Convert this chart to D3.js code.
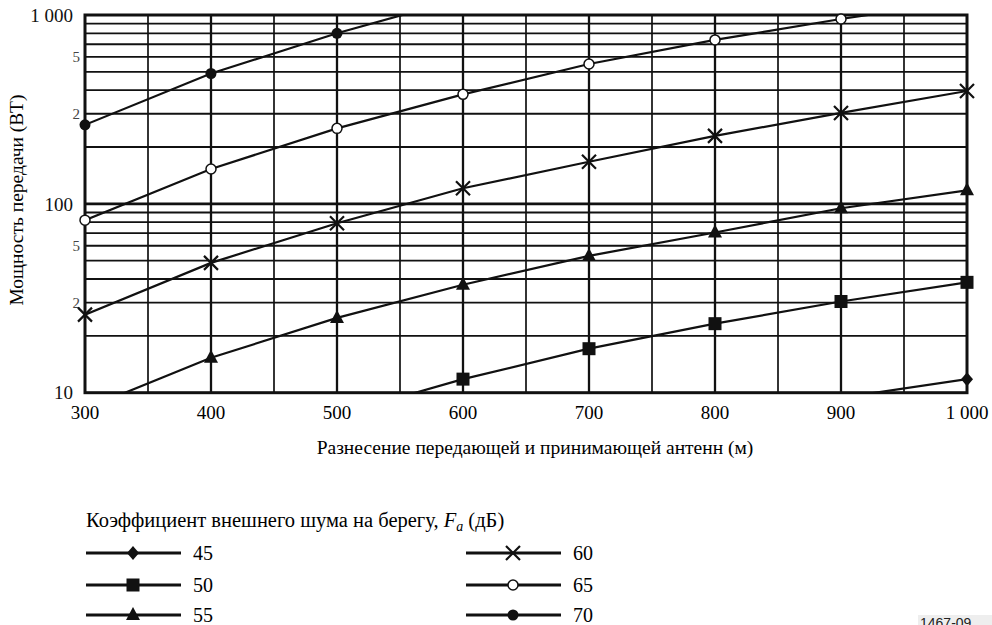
<!DOCTYPE html>
<html>
<head>
<meta charset="utf-8">
<script src="https://cdn.jsdelivr.net/npm/d3@7"></script>
<style>
  body { margin: 0; background: #fff; }
  svg { display: block; }
</style>
</head>
<body>
<div id="chart"></div>
<script>
// distances (m) and transmit power (W) for each external noise factor
const distances = [300, 400, 500, 600, 700, 800, 900, 1000];
const fa45 = [null, null, null, null, null, null, 9.4, 11.8];
const fa50 = [null, null, 7.6, 11.8, 17.1, 23.2, 30.4, 38.4];
const fa55 = [8.2, 15.3, 24.9, 37.3, 53, 70.5, 94.8, 118];
const fa60 = [25.9, 48.7, 79, 121, 167, 229, 303, 396];
const fa65 = [82, 153, 251, 380, 550, 738, 952, 1200];
const fa70 = [262, 490, 800, 1230, null, null, null, null];

const seriesNames = ["45", "50", "55", "60", "65", "70"];
const seriesValues = [fa45, fa50, fa55, fa60, fa65, fa70];
const seriesMarkers = ["diamond", "square", "triangle", "cross", "open", "dot"];

const xTicks = [300, 400, 500, 600, 700, 800, 900, 1000];
const xTickLabels = ["300", "400", "500", "600", "700", "800", "900", "1 000"];
// y labels sit where the original figure prints them
const yTickPos = [1000, 600, 300, 100, 60, 30, 10];
const yTickLabels = ["1 000", "5", "2", "100", "5", "2", "10"];

const W = 992, H = 625;
const plotL = 85, plotR = 967, plotT = 15, plotB = 392.7;
const serif = "'Liberation Serif', 'Times New Roman', 'DejaVu Serif', serif";

const svg = d3.select("#chart").append("svg")
    .attr("width", W)
    .attr("height", H)
    .attr("font-family", serif)
    .style("font-family", serif);

const x = d3.scaleLinear().domain([300, 1000]).range([plotL, plotR]);
const y = d3.scaleLog().domain([10, 1000]).range([plotB, plotT]);

// grid
const grid = svg.append("g").attr("stroke", "#111");
const hLines = [];
[10, 100].forEach(base => { for (let k = 2; k <= 9; k++) hLines.push(base * k); });
hLines.push(100);
grid.selectAll("line.h").data(hLines).enter().append("line")
    .attr("x1", plotL).attr("x2", plotR)
    .attr("y1", d => y(d)).attr("y2", d => y(d))
    .attr("stroke-width", d => (d === 100 ? 2.6 : 1.8));
const vLines = d3.range(350, 1000, 50);
grid.selectAll("line.v").data(vLines).enter().append("line")
    .attr("y1", plotT).attr("y2", plotB)
    .attr("x1", d => x(d)).attr("x2", d => x(d))
    .attr("stroke-width", d => (d % 100 === 0 ? 2.3 : 1.7));
svg.append("rect")
    .attr("x", plotL).attr("y", plotT)
    .attr("width", plotR - plotL).attr("height", plotB - plotT)
    .attr("fill", "none").attr("stroke", "#111").attr("stroke-width", 3);

// axes labels
svg.append("g").selectAll("text").data(xTicks).enter().append("text")
    .attr("x", d => x(d)).attr("y", 419)
    .attr("text-anchor", "middle")
    .attr("font-size", 19)
    .text((d, i) => xTickLabels[i]);

svg.append("g").selectAll("text").data(yTickPos).enter().append("text")
    .attr("x", (d, i) => (yTickLabels[i].length === 1 ? 80 : 73))
    .attr("y", d => y(d))
    .attr("dy", "0.35em")
    .attr("text-anchor", "end")
    .attr("font-size", (d, i) => (yTickLabels[i].length === 1 ? 15 : 19))
    .attr("fill", (d, i) => (yTickLabels[i].length === 1 ? "#444" : "#111"))
    .text((d, i) => yTickLabels[i]);

svg.append("text")
    .attr("x", 535).attr("y", 454)
    .attr("text-anchor", "middle")
    .attr("font-size", 19.5)
    .text("Разнесение передающей и принимающей антенн (м)");

svg.append("text")
    .attr("transform", "translate(23,200) rotate(-90)")
    .attr("text-anchor", "middle")
    .attr("font-size", 19.5)
    .text("Мощность передачи (ВТ)");

// markers
function drawMarker(g, type, cx, cy) {
  if (type === "diamond") {
    g.append("path").attr("d", `M${cx},${cy - 7}L${cx + 6},${cy}L${cx},${cy + 7}L${cx - 6},${cy}Z`).attr("fill", "#111");
  } else if (type === "square") {
    g.append("rect").attr("x", cx - 6.5).attr("y", cy - 6.5).attr("width", 13).attr("height", 13).attr("fill", "#111");
  } else if (type === "triangle") {
    g.append("path").attr("d", `M${cx},${cy - 8}L${cx + 7},${cy + 5}L${cx - 7},${cy + 5}Z`).attr("fill", "#111");
  } else if (type === "cross") {
    g.append("path").attr("d", `M${cx - 7},${cy - 7}L${cx + 7},${cy + 7}M${cx - 7},${cy + 7}L${cx + 7},${cy - 7}`)
        .attr("stroke", "#111").attr("stroke-width", 2.2);
  } else if (type === "open") {
    g.append("circle").attr("cx", cx).attr("cy", cy).attr("r", 5).attr("fill", "#fff").attr("stroke", "#111").attr("stroke-width", 1.5);
  } else {
    g.append("circle").attr("cx", cx).attr("cy", cy).attr("r", 5.5).attr("fill", "#111");
  }
}

svg.append("clipPath").attr("id", "plot")
  .append("rect").attr("x", plotL).attr("y", plotT).attr("width", plotR - plotL).attr("height", plotB - plotT);

const line = d3.line()
    .defined(d => d[1] != null)
    .x(d => x(d[0]))
    .y(d => y(d[1]));

const plot = svg.append("g").attr("clip-path", "url(#plot)");
seriesValues.forEach(vals => {
  plot.append("path")
      .datum(distances.map((d, i) => [d, vals[i]]))
      .attr("fill", "none")
      .attr("stroke", "#111")
      .attr("stroke-width", 2.2)
      .attr("d", line);
});

const marks = svg.append("g");
seriesValues.forEach((vals, s) => {
  distances.forEach((d, i) => {
    const v = vals[i];
    if (v == null || v < 10 || v > 1000) return;
    drawMarker(marks, seriesMarkers[s], x(d), y(v));
  });
});

// legend
const legend = svg.append("g");
const title = legend.append("text").attr("x", 86).attr("y", 527).attr("font-size", 20.5);
title.append("tspan").text("Коэффициент внешнего шума на берегу, ");
title.append("tspan").attr("font-style", "italic").text("F");
title.append("tspan").attr("font-style", "italic").attr("font-size", 14).attr("dy", 4).text("a");
title.append("tspan").attr("dy", -4).text(" (дБ)");

const legendCols = [86, 466];
const legendRows = [553, 585, 615];
seriesNames.forEach((name, i) => {
  const lx = legendCols[Math.floor(i / 3)];
  const ly = legendRows[i % 3];
  legend.append("line")
      .attr("x1", lx).attr("x2", lx + 95)
      .attr("y1", ly).attr("y2", ly)
      .attr("stroke", "#111").attr("stroke-width", 3);
  drawMarker(legend, seriesMarkers[i], lx + 47, ly);
  legend.append("text")
      .attr("x", lx + 107).attr("y", ly)
      .attr("dy", "0.35em")
      .attr("font-size", 20)
      .text(name);
});

// figure number
svg.append("rect").attr("x", 918).attr("y", 615).attr("width", 74).attr("height", 12).attr("fill", "#eee");
svg.append("text")
    .attr("x", 920).attr("y", 628)
    .attr("font-family", "'Liberation Sans', Arial, sans-serif")
    .attr("font-size", 14)
    .attr("fill", "#222")
    .text("1467-09");
</script>
</body>
</html>
